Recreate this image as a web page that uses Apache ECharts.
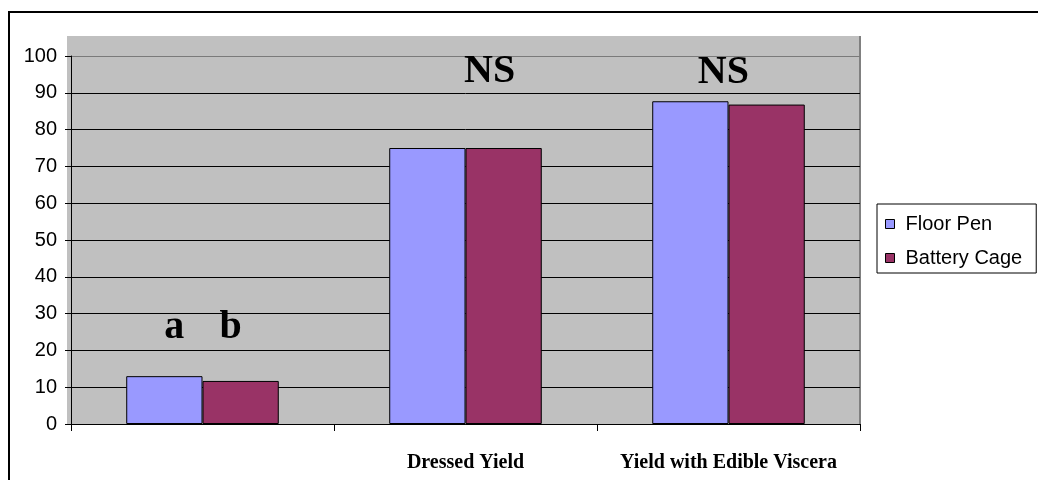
<!DOCTYPE html>
<html>
<head>
<meta charset="utf-8">
<script src="https://cdn.jsdelivr.net/npm/echarts@6/dist/echarts.min.js"></script>
<style>
html,body{margin:0;padding:0;background:#fff;}
#chart{width:1038px;height:480px;}
</style>
</head>
<body>
<div id="chart"></div>
<script>
// ---- data ----
const categories = ['', 'Dressed Yield', 'Yield with Edible Viscera'];
const seriesNames = ['Floor Pen', 'Battery Cage'];
const floorPen = [13.0, 75.0, 87.7];
const batteryCage = [11.7, 75.0, 86.8];
const yTicks = [0, 10, 20, 30, 40, 50, 60, 70, 80, 90, 100];
// significance annotations per bar (text shown above bars)
const floorPenNotes = ['a', '', 'NS'];
const batteryCageNotes = ['b', 'NS', ''];

const colors = ['#9999FF', '#993366'];
const noteOffsets = {
  'Floor Pen': [[10, -28], null, [33, -9]],
  'Battery Cage': [[-10, -33], [-14, -56], null]
};

function buildData(values, notes, name) {
  return values.map((v, i) => {
    const item = { value: v };
    if (notes[i]) {
      item.label = {
        show: true,
        position: 'top',
        distance: 0,
        offset: noteOffsets[name][i],
        formatter: notes[i],
        fontFamily: '"Liberation Serif", "Times New Roman", serif',
        fontWeight: 'bold',
        fontSize: 40,
        color: '#000'
      };
    }
    return item;
  });
}

const chart = echarts.init(document.getElementById('chart'), null, { renderer: 'canvas' });

const gridColors = yTicks.map((t, i) => (i === yTicks.length - 1 ? '#7a7a7a' : '#000'));

chart.setOption({
  animation: false,
  backgroundColor: '#fff',
  graphic: [
    { type: 'rect', z: -10, silent: true, shape: { x: 9, y: 12, width: 1200, height: 1000 },
      style: { fill: '#fff', stroke: '#000', lineWidth: 2 } },
    { type: 'rect', z: -5, silent: true, shape: { x: 67, y: 36, width: 793, height: 388 },
      style: { fill: '#C0C0C0' } },
    { type: 'line', z: -4, silent: true, shape: { x1: 860, y1: 36, x2: 860, y2: 424 },
      style: { stroke: '#808080', lineWidth: 2 } }
  ],
  grid: { left: 71, right: 178, top: 56, bottom: 56, containLabel: false },
  legend: {
    orient: 'vertical',
    left: 877,
    top: 204,
    data: seriesNames,
    icon: 'rect',
    itemWidth: 9,
    itemHeight: 9,
    itemGap: 14,
    padding: [10, 14, 5, 8],
    backgroundColor: '#fff',
    borderColor: '#000',
    borderWidth: 1,
    itemStyle: { borderColor: '#000', borderWidth: 1 },
    textStyle: {
      fontFamily: '"Liberation Sans", Arial, sans-serif',
      fontSize: 20,
      lineHeight: 20,
      color: '#000',
      padding: [0, 0, 0, 6]
    }
  },
  xAxis: {
    type: 'category',
    data: categories,
    axisLine: { lineStyle: { color: '#000', width: 1 } },
    axisTick: { show: true, alignWithLabel: false, length: 7, lineStyle: { color: '#000' } },
    axisLabel: {
      margin: 29,
      interval: 0,
      fontFamily: '"Liberation Serif", "Times New Roman", serif',
      fontWeight: 'bold',
      fontSize: 20,
      color: '#000'
    },
    splitLine: { show: false }
  },
  yAxis: {
    type: 'value',
    min: 0,
    max: 100,
    interval: 10,
    axisLine: { show: true, lineStyle: { color: '#000', width: 1 } },
    axisTick: { show: true, length: 6, lineStyle: { color: '#000' } },
    axisLabel: {
      margin: 14,
      fontFamily: '"Liberation Sans", Arial, sans-serif',
      fontSize: 20,
      color: '#000'
    },
    splitLine: { show: true, lineStyle: { color: gridColors, width: 1 } }
  },
  series: [
    {
      name: seriesNames[0],
      type: 'bar',
      data: buildData(floorPen, floorPenNotes, seriesNames[0]),
      barGap: '0%',
      barCategoryGap: '42%',
      itemStyle: { color: colors[0], borderColor: '#000', borderWidth: 1 }
    },
    {
      name: seriesNames[1],
      type: 'bar',
      data: buildData(batteryCage, batteryCageNotes, seriesNames[1]),
      barGap: '0%',
      barCategoryGap: '42%',
      itemStyle: { color: colors[1], borderColor: '#000', borderWidth: 1 }
    }
  ]
});
</script>
</body>
</html>
